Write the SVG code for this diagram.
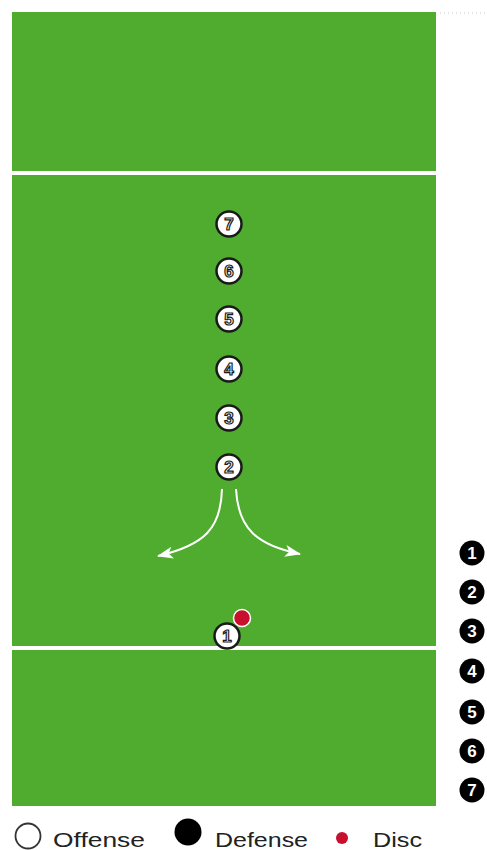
<svg xmlns="http://www.w3.org/2000/svg" width="487" height="850" viewBox="0 0 487 850">
<style>
.off circle{fill:#fff;stroke:#1a1a1a;stroke-width:2.5}
.num{font-family:"Liberation Sans",Arial,sans-serif;font-weight:bold;font-size:17px;text-anchor:middle;fill:#fff;stroke:#1a1a1a;stroke-width:1.2}
.def circle{fill:#000}
.dnum{font-family:"Liberation Sans",Arial,sans-serif;font-weight:bold;font-size:17px;text-anchor:middle;fill:#fff}
.leg{font-family:"Liberation Sans",Arial,sans-serif;font-size:21px;fill:#222}
.fl{stroke:#fff;stroke-width:4}
</style>
<defs>
<marker id="ah" viewBox="0 0 16 12" refX="15" refY="6" markerWidth="16" markerHeight="12" markerUnits="userSpaceOnUse" orient="auto">
<path d="M0,0 L16,6 L0,12 L4,6 Z" fill="#fff"/>
</marker>
</defs>
<rect width="487" height="850" fill="#fff"/>
<line x1="440" y1="13" x2="487" y2="13" stroke="#ccc" stroke-dasharray="1 3"/>
<g id="field">
<rect x="12" y="12" width="424" height="794" fill="#4fac2e"/>
<line class="fl" x1="12" y1="173" x2="436" y2="173"/>
<line class="fl" x1="12" y1="648" x2="436" y2="648"/>
</g>
<g id="connectors" fill="none" stroke="#fff" stroke-width="2">
<path d="M222,489 C221,528 205,545 158,556" marker-end="url(#ah)"/>
<path d="M236,489 C238,528 256,545 300,554" marker-end="url(#ah)"/>
</g>
<g id="o7" class="off"><circle cx="229" cy="224" r="12.5"/><text class="num" x="229" y="230">7</text></g>
<g id="o6" class="off"><circle cx="229" cy="271" r="12.5"/><text class="num" x="229" y="277">6</text></g>
<g id="o5" class="off"><circle cx="229" cy="319" r="12.5"/><text class="num" x="229" y="325">5</text></g>
<g id="o4" class="off"><circle cx="229" cy="369" r="12.5"/><text class="num" x="229" y="375">4</text></g>
<g id="o3" class="off"><circle cx="229" cy="418" r="12.5"/><text class="num" x="229" y="424">3</text></g>
<g id="o2" class="off"><circle cx="229" cy="467" r="12.5"/><text class="num" x="229" y="473">2</text></g>
<g id="o1" class="off"><circle cx="227" cy="636" r="12.5"/><text class="num" x="227" y="642">1</text></g>
<g id="disc"><circle cx="242" cy="618" r="8.5" fill="#c8102e" stroke="#fff" stroke-width="1.5"/></g>
<g id="d1" class="def"><circle cx="472" cy="553" r="12.5"/><text class="dnum" x="472" y="559">1</text></g>
<g id="d2" class="def"><circle cx="472" cy="592" r="12.5"/><text class="dnum" x="472" y="598">2</text></g>
<g id="d3" class="def"><circle cx="472" cy="631" r="12.5"/><text class="dnum" x="472" y="637">3</text></g>
<g id="d4" class="def"><circle cx="472" cy="671" r="12.5"/><text class="dnum" x="472" y="677">4</text></g>
<g id="d5" class="def"><circle cx="472" cy="712" r="12.5"/><text class="dnum" x="472" y="718">5</text></g>
<g id="d6" class="def"><circle cx="472" cy="751" r="12.5"/><text class="dnum" x="472" y="757">6</text></g>
<g id="d7" class="def"><circle cx="472" cy="790" r="12.5"/><text class="dnum" x="472" y="796">7</text></g>
<g id="legend">
<circle cx="28" cy="836" r="12.5" fill="#fff" stroke="#333" stroke-width="1.8"/>
<text class="leg" x="53" y="847" textLength="92" lengthAdjust="spacingAndGlyphs">Offense</text>
<circle cx="188" cy="832" r="13.5" fill="#000"/>
<text class="leg" x="215" y="847" textLength="93" lengthAdjust="spacingAndGlyphs">Defense</text>
<circle cx="342" cy="838" r="6" fill="#c8102e"/>
<text class="leg" x="373" y="847" textLength="49" lengthAdjust="spacingAndGlyphs">Disc</text>
</g>
</svg>
